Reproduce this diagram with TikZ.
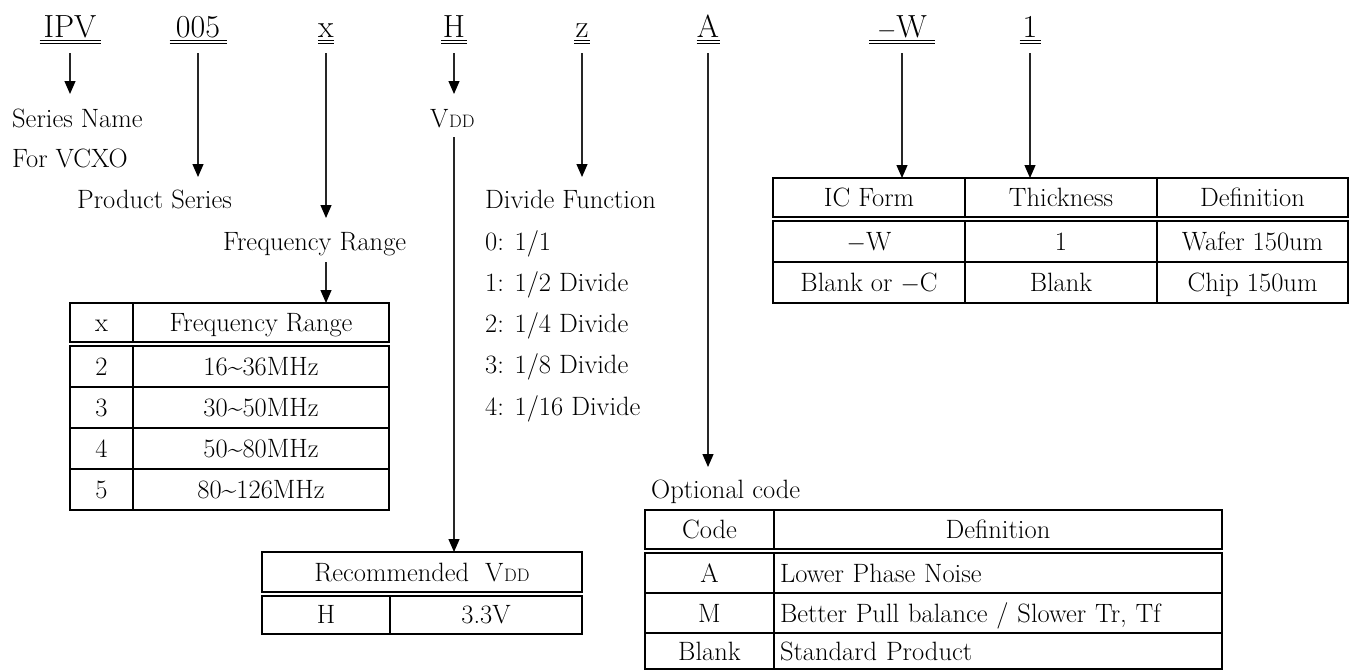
\documentclass[tikz,border=0pt]{standalone}
\usetikzlibrary{arrows.meta,calc}
\newcommand\myfs{\fontsize{26.5}{30}\selectfont}
\newcommand\mytopfs{\fontsize{32}{34}\selectfont}
\newcommand\vddtxt{V\kern0.5pt{\fontsize{18}{18}\selectfont DD}}
\newcommand\tld{\textasciitilde}
\begin{document}
\begin{tikzpicture}[x=1pt,y=-1pt,
  toplbl/.style={inner sep=0pt, outer sep=0pt, anchor=base, font=\mytopfs, text height=22pt, text depth=0pt},
  lbl/.style={inner sep=0pt, anchor=base west, font=\myfs},
  arr/.style={draw=black!85, line width=1.2pt, -{Triangle[length=13pt,width=11pt,color=black]}},
  uline/.style={line width=1.3pt},
  cell/.style={draw, line width=2.2pt, inner sep=0pt, outer sep=0pt, anchor=north west, text height=20pt, text depth=2pt, font=\myfs},
  lcell/.style={cell, align=left, inner xsep=6pt, text width=436pt}
]
\useasboundingbox (0,0) rectangle (1353,670);

% ---------- top code labels ----------
\node[toplbl, minimum width=61pt] (ipv) at (70,37) {IPV};
\node[toplbl, minimum width=57pt] (c005) at (198,37) {005};
\node[toplbl, minimum width=16pt] (cx) at (326,37) {x};
\node[toplbl, minimum width=26pt] (ch) at (454,37) {H};
\node[toplbl, minimum width=16pt] (cz) at (582,37) {z};
\node[toplbl, minimum width=23pt] (ca) at (708,37) {A};
\node[toplbl, minimum width=66pt] (cw) at (902,37) {$-$W};
\node[toplbl, minimum width=21pt] (c1) at (1030,37) {1};
\foreach \n in {ipv,c005,cx,ch,cz,ca,cw,c1}{
  \draw[uline] ($(\n.base west)+(0,3.8)$) -- ($(\n.base east)+(0,3.8)$);
  \draw[uline] ($(\n.base west)+(0,6.4)$) -- ($(\n.base east)+(0,6.4)$);
}

% ---------- free labels ----------
\node[lbl] (sn) at (12,127) {Series Name};
\node[lbl] (vcxo) at (12,167) {For VCXO};
\node[lbl] (ps) at (77,208) {Product Series};
\node[lbl] (frl) at (223,250) {Frequency Range};
\node[lbl] (vdd) at (430,127) {\vddtxt};
\node[lbl] (df) at (485,208) {Divide Function};
\node[lbl] (d0) at (485,250) {0: 1/1};
\node[lbl] (d1) at (485,291.3) {1: 1/2 Divide};
\node[lbl] (d2) at (485,332.6) {2: 1/4 Divide};
\node[lbl] (d3) at (485,373.9) {3: 1/8 Divide};
\node[lbl] (d4) at (485,415.2) {4: 1/16 Divide};
\node[lbl] (oc) at (651,498) {Optional code};

% ---------- frequency table ----------
\node[cell, minimum width=63pt, minimum height=39pt] (fx) at (70,303) {x};
\node[cell, minimum width=256pt, minimum height=39pt] (fr) at (133,303) {Frequency Range};
\node[cell, minimum width=63pt, minimum height=41pt] (f2a) at (70,345.7) {2};
\node[cell, minimum width=256pt, minimum height=41pt] (f2b) at (133,345.7) {16\tld36MHz};
\node[cell, minimum width=63pt, minimum height=41pt] (f3a) at (70,386.7) {3};
\node[cell, minimum width=256pt, minimum height=41pt] (f3b) at (133,386.7) {30\tld50MHz};
\node[cell, minimum width=63pt, minimum height=41pt] (f4a) at (70,427.7) {4};
\node[cell, minimum width=256pt, minimum height=41pt] (f4b) at (133,427.7) {50\tld80MHz};
\node[cell, minimum width=63pt, minimum height=41pt] (f5a) at (70,468.7) {5};
\node[cell, minimum width=256pt, minimum height=41pt] (f5b) at (133,468.7) {80\tld126MHz};

% ---------- recommended VDD table ----------
\node[cell, minimum width=320pt, minimum height=40pt] (rech) at (262,552) {Recommended\ \ \vddtxt};
\node[cell, minimum width=128pt, minimum height=38.3pt] (reca) at (262,595.7) {H};
\node[cell, minimum width=192pt, minimum height=38.3pt] (recb) at (390,595.7) {3.3V};

% ---------- IC form table ----------
\node[cell, minimum width=192pt, minimum height=39pt] (icf) at (773,178) {IC Form};
\node[cell, minimum width=192pt, minimum height=39pt] (thk) at (965,178) {Thickness};
\node[cell, minimum width=191pt, minimum height=39pt] (icd) at (1157,178) {Definition};
\node[cell, minimum width=192pt, minimum height=41pt] (i1a) at (773,221) {$-$W};
\node[cell, minimum width=192pt, minimum height=41pt] (i1b) at (965,221) {1};
\node[cell, minimum width=191pt, minimum height=41pt] (i1c) at (1157,221) {Wafer 150um};
\node[cell, minimum width=192pt, minimum height=41pt] (i2a) at (773,262) {Blank or $-$C};
\node[cell, minimum width=192pt, minimum height=41pt] (i2b) at (965,262) {Blank};
\node[cell, minimum width=191pt, minimum height=41pt] (i2c) at (1157,262) {Chip 150um};

% ---------- optional code table ----------
\node[cell, minimum width=129pt, minimum height=39pt] (och) at (645,510) {Code};
\node[cell, minimum width=448pt, minimum height=39pt] (odh) at (774,510) {Definition};
\node[cell, minimum width=129pt, minimum height=40pt] (o1a) at (645,553) {A};
\node[lcell, minimum height=40pt] (o1b) at (774,553) {Lower Phase Noise};
\node[cell, minimum width=129pt, minimum height=40pt] (o2a) at (645,593) {M};
\node[lcell, minimum height=40pt] (o2b) at (774,593) {Better Pull balance / Slower Tr, Tf};
\node[cell, minimum width=129pt, minimum height=36pt] (o3a) at (645,633) {Blank};
\node[lcell, minimum height=36pt] (o3b) at (774,633) {Standard Product};

% ---------- connectors ----------
\draw[arr] ($(ipv.base)+(0,16)$) -- ($(ipv.base |- sn.base)+(0,-33)$);
\draw[arr] ($(c005.base)+(0,16)$) -- ($(c005.base |- ps.base)+(0,-31)$);
\draw[arr] ($(cx.base)+(0,16)$) -- ($(cx.base |- frl.base)+(0,-32)$);
\draw[arr] ($(cx.base |- frl.base)+(0,12)$) -- (cx.base |- fr.north);
\draw[arr] ($(ch.base)+(0,16)$) -- ($(ch.base |- vdd.base)+(0,-33)$);
\draw[arr] ($(ch.base |- vdd.base)+(0,10)$) -- (ch.base |- rech.north);
\draw[arr] ($(cz.base)+(0,16)$) -- ($(cz.base |- df.base)+(0,-31)$);
\draw[arr] ($(ca.base)+(0,16)$) -- ($(ca.base |- oc.base)+(0,-31)$);
\draw[arr] ($(cw.base)+(0,16)$) -- (cw.base |- icf.north);
\draw[arr] ($(c1.base)+(0,16)$) -- (c1.base |- thk.north);
\end{tikzpicture}
\end{document}
